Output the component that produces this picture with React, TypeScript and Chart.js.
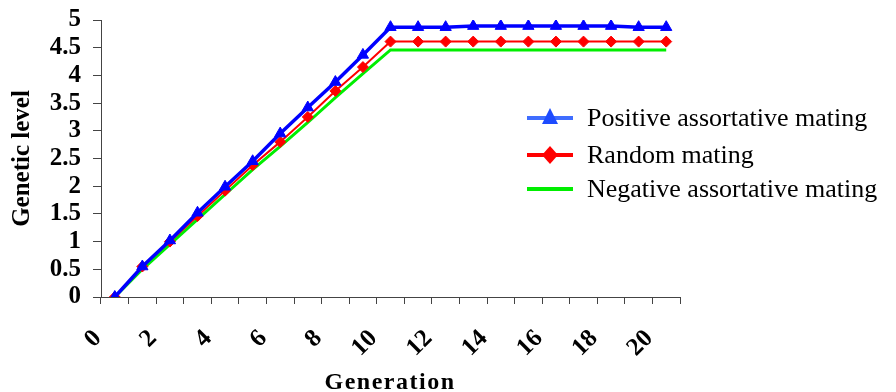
import React, { useEffect, useRef } from "react";
import { Chart, registerables } from "chart.js";

Chart.register(...registerables);

// Generations 0..20
const generations: string[] = [
  "0", "1", "2", "3", "4", "5", "6", "7", "8", "9", "10",
  "11", "12", "13", "14", "15", "16", "17", "18", "19", "20",
];

const positiveMating: number[] = [
  0, 0.55, 1.02, 1.52, 1.99, 2.45, 2.95, 3.42, 3.88, 4.37, 4.87,
  4.87, 4.87, 4.89, 4.89, 4.89, 4.89, 4.89, 4.89, 4.87, 4.87,
];

const randomMating: number[] = [
  0, 0.55, 1.0, 1.46, 1.92, 2.38, 2.8, 3.25, 3.72, 4.15, 4.61,
  4.61, 4.61, 4.61, 4.61, 4.61, 4.61, 4.61, 4.61, 4.61, 4.61,
];

const negativeMating: number[] = [
  0, 0.5, 0.95, 1.4, 1.85, 2.3, 2.72, 3.15, 3.6, 4.03, 4.46,
  4.46, 4.46, 4.46, 4.46, 4.46, 4.46, 4.46, 4.46, 4.46, 4.46,
];

const seriesNames: string[] = [
  "Positive assortative mating",
  "Random mating",
  "Negative assortative mating",
];

const xTitle = "Generation";
const yTitle = "Genetic level";

const SERIF = "'Liberation Serif', 'Times New Roman', serif";
const BLUE = "#0000ff";
const RED = "#ff0000";
const GREEN = "#00ee00";

// Axis titles and the legend block on the right
const decorations = {
  id: "decorations",
  afterDraw(chart: Chart) {
    const ctx = chart.ctx;
    const area = chart.chartArea;
    ctx.save();
    ctx.fillStyle = "#000";

    // x-axis title
    ctx.font = `bold 24px ${SERIF}`;
    (ctx as any).letterSpacing = "1.5px";
    ctx.textAlign = "center";
    ctx.textBaseline = "alphabetic";
    ctx.fillText(xTitle, 390, 389);
    (ctx as any).letterSpacing = "0px";

    // y-axis title
    ctx.save();
    ctx.translate(29, (area.top + area.bottom) / 2);
    ctx.rotate(-Math.PI / 2);
    ctx.textAlign = "center";
    ctx.textBaseline = "alphabetic";
    ctx.font = `bold 25px ${SERIF}`;
    ctx.fillText(yTitle, 0, 0);
    ctx.restore();

    // legend
    const rows = [118, 155, 189];
    const lineColors = ["#3f6dff", RED, GREEN];
    const x0 = 527;
    const x1 = 573;
    const cx = (x0 + x1) / 2;
    rows.forEach((y, i) => {
      ctx.strokeStyle = lineColors[i];
      ctx.lineWidth = 4;
      ctx.beginPath();
      ctx.moveTo(x0, y);
      ctx.lineTo(x1, y);
      ctx.stroke();
      if (i === 0) {
        ctx.fillStyle = "#1d4bff";
        ctx.beginPath();
        ctx.moveTo(cx, y - 10);
        ctx.lineTo(cx + 8, y + 6);
        ctx.lineTo(cx - 8, y + 6);
        ctx.closePath();
        ctx.fill();
      } else if (i === 1) {
        ctx.fillStyle = RED;
        ctx.beginPath();
        ctx.moveTo(cx, y - 9);
        ctx.lineTo(cx + 8, y);
        ctx.lineTo(cx, y + 9);
        ctx.lineTo(cx - 8, y);
        ctx.closePath();
        ctx.fill();
      }
      ctx.fillStyle = "#000";
      ctx.font = `26px ${SERIF}`;
      ctx.textAlign = "left";
      ctx.textBaseline = "alphabetic";
      ctx.fillText(seriesNames[i], 587, y + 8);
    });
    ctx.restore();
  },
};

export default function App() {
  const canvasRef = useRef<HTMLCanvasElement | null>(null);

  useEffect(() => {
    const canvas = canvasRef.current;
    if (!canvas) return;
    const chart = new Chart(canvas, {
      type: "line",
      data: {
        labels: generations,
        datasets: [
          {
            label: seriesNames[0],
            data: positiveMating,
            borderColor: BLUE,
            backgroundColor: BLUE,
            borderWidth: 3.5,
            pointStyle: "triangle",
            pointRadius: 6.5,
            pointBorderWidth: 1,
            tension: 0,
          },
          {
            label: seriesNames[1],
            data: randomMating,
            borderColor: RED,
            backgroundColor: RED,
            borderWidth: 2,
            pointStyle: "rectRot",
            pointRadius: 5.5,
            pointBorderWidth: 1,
            tension: 0,
          },
          {
            label: seriesNames[2],
            data: negativeMating,
            borderColor: GREEN,
            backgroundColor: GREEN,
            borderWidth: 3,
            pointRadius: 0,
            tension: 0,
          },
        ],
      },
      options: {
        responsive: false,
        animation: false,
        layout: { padding: { left: 0, top: 20, right: 216, bottom: 0 } },
        plugins: {
          legend: { display: false },
          tooltip: { enabled: false },
        },
        scales: {
          x: {
            type: "category",
            offset: true,
            grid: {
              offset: true,
              drawOnChartArea: false,
              drawTicks: true,
              tickLength: 7,
              color: "#444",
            },
            border: { color: "#444", width: 1 },
            ticks: {
              autoSkip: false,
              minRotation: 45,
              maxRotation: 45,
              padding: 20,
              labelOffset: -17,
              color: "#000",
              font: { family: SERIF, size: 25, weight: "bold" },
              callback: (_v: any, i: number) => (i % 2 === 0 ? generations[i] : ""),
            },
            afterFit: (scale: any) => {
              scale.height = 95;
            },
          },
          y: {
            min: 0,
            max: 5,
            afterFit: (scale: any) => {
              scale.width = 101;
              scale.paddingTop = 0;
            },
            grid: {
              drawOnChartArea: false,
              drawTicks: true,
              tickLength: 8,
              color: "#444",
            },
            border: { color: "#444", width: 1 },
            ticks: {
              stepSize: 0.5,
              autoSkip: false,
              padding: 12,
              color: "#000",
              font: { family: SERIF, size: 25, weight: "bold" },
              callback: (v: any) => String(Math.round(Number(v) * 10) / 10),
            },
          },
        },
      },
      plugins: [decorations],
    });
    return () => chart.destroy();
  }, []);

  return (
    <div style={{ position: "fixed", left: 0, top: 0, width: 896, height: 392, background: "#fff" }}>
      <canvas ref={canvasRef} width={896} height={392} />
    </div>
  );
}
